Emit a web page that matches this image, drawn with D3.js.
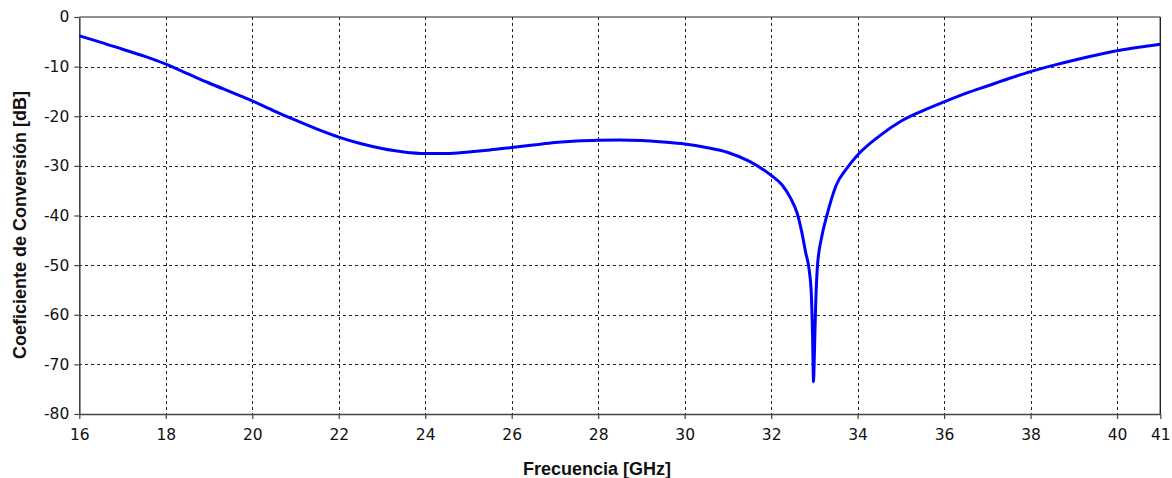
<!DOCTYPE html>
<html>
<head>
<meta charset="utf-8">
<script src="https://cdn.jsdelivr.net/npm/d3@7"></script>
<style>
html,body{margin:0;padding:0;background:#fff;}
svg{display:block;}
</style>
</head>
<body>
<svg id="chart" width="1172" height="478"></svg>
<script>
const freq = [16,16.5,17,17.5,18,18.5,19,19.5,20,20.5,21,21.5,22,22.5,23,23.5,24,24.5,25,25.5,26,26.5,27,27.5,28,28.5,29,29.5,30,30.5,31,31.5,32,32.25,32.45,32.6,32.7,32.8,32.88,32.93,32.96,32.98,33.0,33.03,33.07,33.17,33.28,33.5,33.75,34,34.5,35,35.5,36,36.5,37,37.5,38,38.5,39,39.5,40,40.5,41];
const conv = [-3.8,-5.1,-6.5,-7.9,-9.5,-11.4,-13.3,-15.1,-16.9,-18.9,-20.8,-22.6,-24.2,-25.5,-26.5,-27.2,-27.5,-27.5,-27.2,-26.8,-26.3,-25.8,-25.3,-25.0,-24.85,-24.8,-24.9,-25.2,-25.6,-26.3,-27.3,-29.1,-31.9,-33.8,-36.5,-39.5,-43,-47.5,-51,-56,-65,-73.5,-68,-58,-50.3,-44.3,-40.3,-34,-30.5,-27.8,-24.0,-21.0,-18.9,-17.1,-15.4,-13.9,-12.4,-11.0,-9.8,-8.7,-7.7,-6.8,-6.1,-5.5];
const xTicks = [16,18,20,22,24,26,28,30,32,34,36,38,40,41];
const yTicks = [0,-10,-20,-30,-40,-50,-60,-70,-80];
const xTitle = "Frecuencia [GHz]";
const yTitle = "Coeficiente de Conversión [dB]";

const svg = d3.select("#chart");
const L = 79.3, R = 1160.3, T = 17, B = 414;
const x = d3.scaleLinear().domain([16,41]).range([L,R]);
const y = d3.scaleLinear().domain([-80,0]).range([B,T]);

// grid
const grid = svg.append("g").attr("stroke","#222").attr("stroke-width",1).attr("stroke-dasharray","3,3").attr("shape-rendering","crispEdges");
grid.selectAll("line.v").data(xTicks.filter(d=>d>16 && d<41)).enter().append("line")
  .attr("x1",d=>Math.round(x(d))+0.5).attr("x2",d=>Math.round(x(d))+0.5).attr("y1",T).attr("y2",B);
grid.selectAll("line.h").data(yTicks.filter(d=>d<0 && d>-80)).enter().append("line")
  .attr("x1",L).attr("x2",R).attr("y1",d=>Math.round(y(d))+0.5).attr("y2",d=>Math.round(y(d))+0.5);

// borders top/right
svg.append("line").attr("x1",L).attr("x2",R).attr("y1",T).attr("y2",T).attr("stroke","#222").attr("stroke-width",1.2);
svg.append("line").attr("x1",R).attr("x2",R).attr("y1",T).attr("y2",B).attr("stroke","#222").attr("stroke-width",1.4);

// axes
const xAxis = d3.axisBottom(x).tickValues(xTicks).tickFormat(d3.format("d")).tickSize(5).tickSizeOuter(0).tickPadding(10);
const yAxis = d3.axisLeft(y).tickValues(yTicks).tickFormat(d=>d===0?"0":String(d)).tickSize(5).tickSizeOuter(0).tickPadding(5);
const gx = svg.append("g").attr("transform",`translate(0,${B})`).call(xAxis);
const gy = svg.append("g").attr("transform",`translate(${L},0)`).call(yAxis);
[gx,gy].forEach(g=>{
  g.select(".domain").attr("stroke","#444").attr("stroke-width",1.6);
  g.selectAll(".tick line").attr("stroke","#444").attr("stroke-width",1.2);
  g.selectAll(".tick text").attr("fill","#111").style("font-family","'DejaVu Sans', Verdana, sans-serif").style("font-size","15.5px");
});

// curve
const pts = freq.map((f,i)=>[f,conv[i]]);
svg.append("path").datum(pts)
  .attr("fill","none").attr("stroke","#0000ff").attr("stroke-width",3).attr("stroke-linejoin","round")
  .attr("d", d3.line().x(d=>x(d[0])).y(d=>y(d[1])).curve(d3.curveMonotoneX));

// titles
svg.append("text").attr("x",597).attr("y",475).attr("text-anchor","middle")
  .style("font-family","'Liberation Sans', Arial, sans-serif").style("font-weight","bold").style("font-size","18px").attr("fill","#111").text(xTitle);
svg.append("text").attr("transform","translate(26,225) rotate(-90)").attr("text-anchor","middle")
  .style("font-family","'Liberation Sans', Arial, sans-serif").style("font-weight","bold").style("font-size","18px").attr("fill","#111").text(yTitle);
</script>
</body>
</html>
